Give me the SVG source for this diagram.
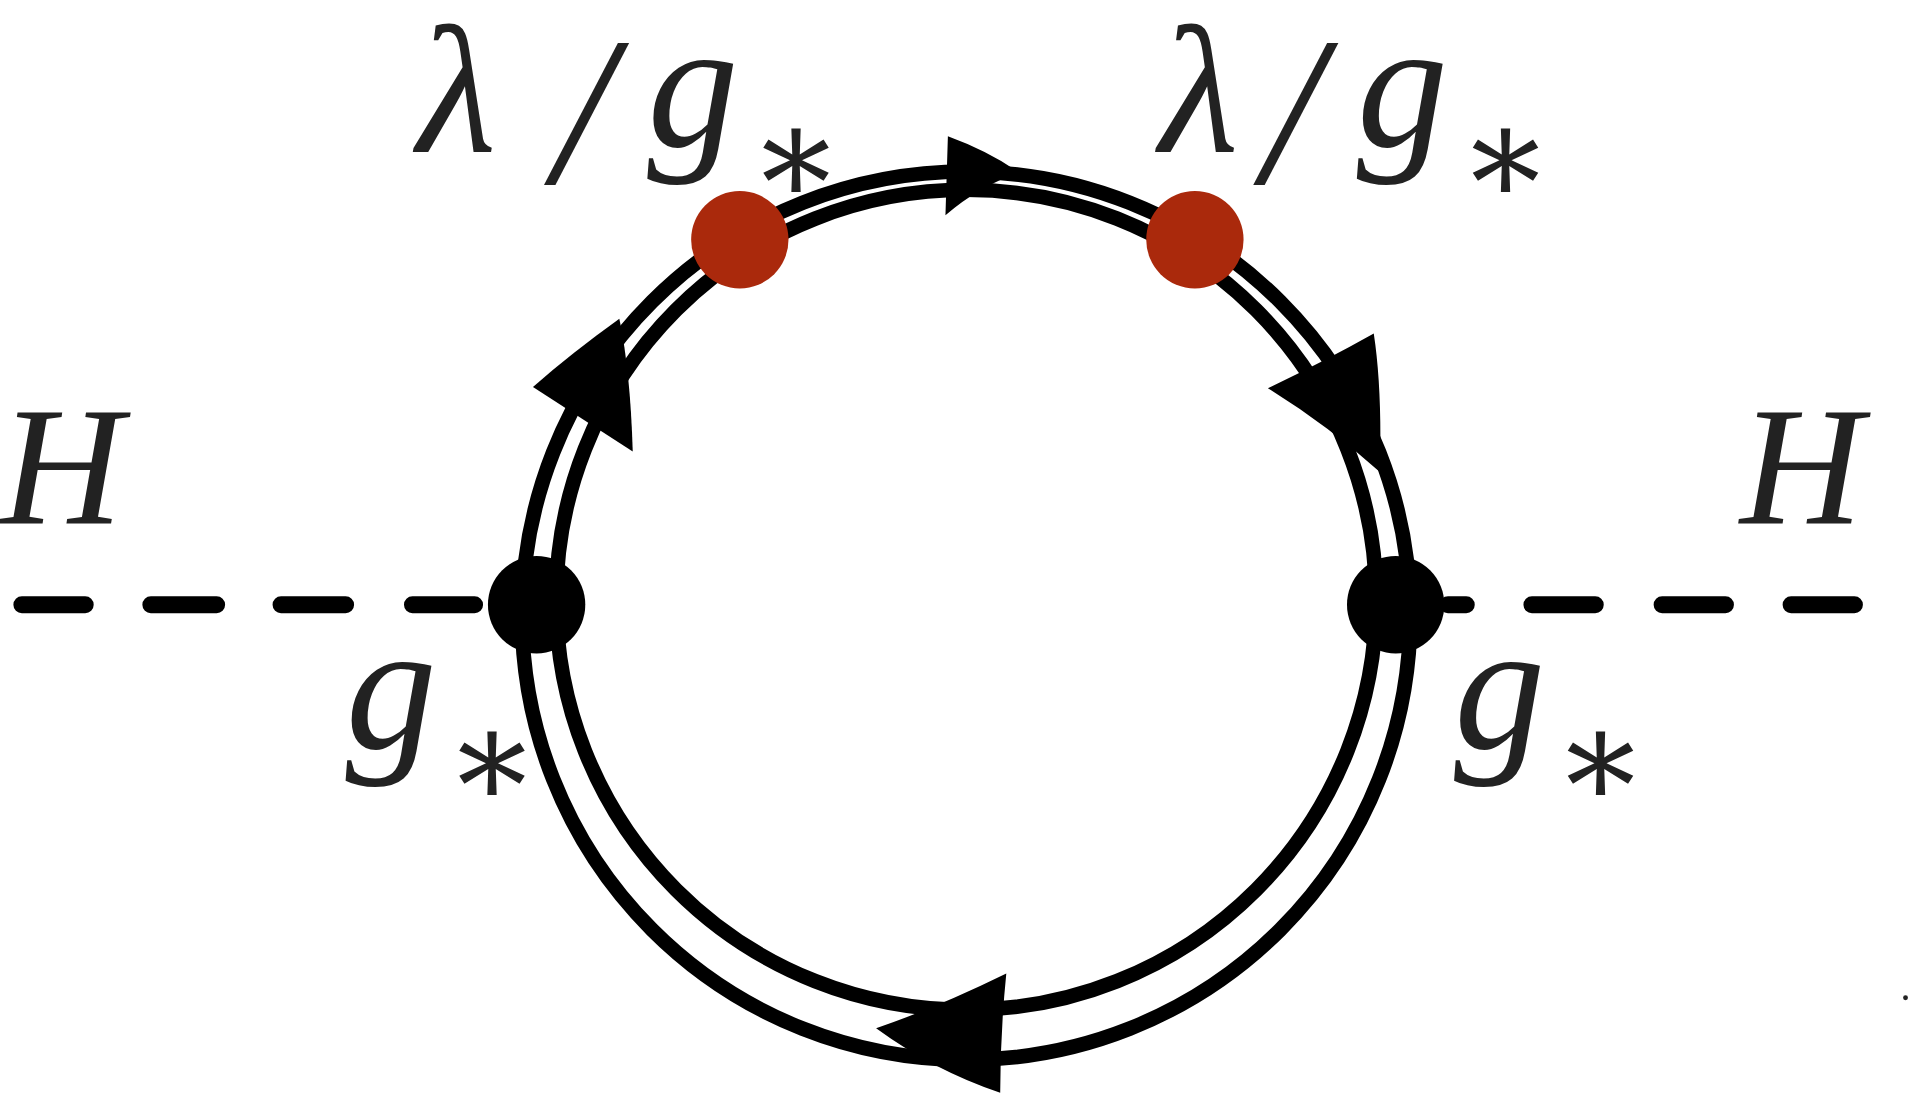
<svg xmlns="http://www.w3.org/2000/svg" width="1908" height="1099" viewBox="0 0 1908 1099">
<style>
.t{font-family:"Liberation Serif","DejaVu Serif",serif;font-style:italic;fill:#222}
.c{fill:none;stroke:#000;stroke-width:12}
.d{stroke:#000;stroke-width:14;stroke-linecap:round}
</style>
<rect width="1908" height="1099" fill="#fff"/>
<g transform="scale(1.2168)">
<g id="connectors">
<circle class="c" cx="794" cy="506" r="365"/>
<circle class="c" cx="794" cy="493" r="337"/>
<path class="d" d="M18 497H70M124 497H178M231 497H284M339 497H390M1190 497H1205M1259 497H1311M1366 497H1418M1472 497H1524"/>
<path d="M779 112Q812 124 838 142Q806 152 777 177Z"/>
<path d="M438 318Q470 290 509 262Q518 305 520 371Z"/>
<path d="M1042 319Q1090 296 1129 274Q1136 320 1134 388Q1092 350 1042 319Z"/>
<path d="M827 800Q822 850 822 898Q768 880 720 845Q770 828 827 800Z"/>
</g>
<g id="vertexL"><circle cx="441" cy="497" r="40"/></g>
<g id="vertexR"><circle cx="1147" cy="497" r="40"/></g>
<g id="dot1"><circle cx="608" cy="197" r="40" fill="#AA290C"/></g>
<g id="dot2"><circle cx="982" cy="197" r="40" fill="#AA290C"/></g>
<g id="labels">
<text class="t" x="343" y="125" font-size="150">λ</text>
<text class="t" x="455" y="150" font-size="175">/</text>
<text class="t" x="532" y="120" font-size="150">g</text>
<text class="t" x="615" y="168" font-size="115">∗</text>
<text class="t" x="953" y="125" font-size="150">λ</text>
<text class="t" x="1038" y="150" font-size="175">/</text>
<text class="t" x="1115" y="120" font-size="150">g</text>
<text class="t" x="1198" y="168" font-size="115">∗</text>
<text class="t" x="284" y="615" font-size="150">g</text>
<text class="t" x="365" y="663" font-size="115">∗</text>
<text class="t" x="1195" y="615" font-size="150">g</text>
<text class="t" x="1276" y="663" font-size="115">∗</text>
<text class="t" x="0" y="430" font-size="140">H</text>
<text class="t" x="1430" y="430" font-size="140">H</text>
<circle cx="1566" cy="820" r="2" fill="#222"/>
</g>
</g>
</svg>
